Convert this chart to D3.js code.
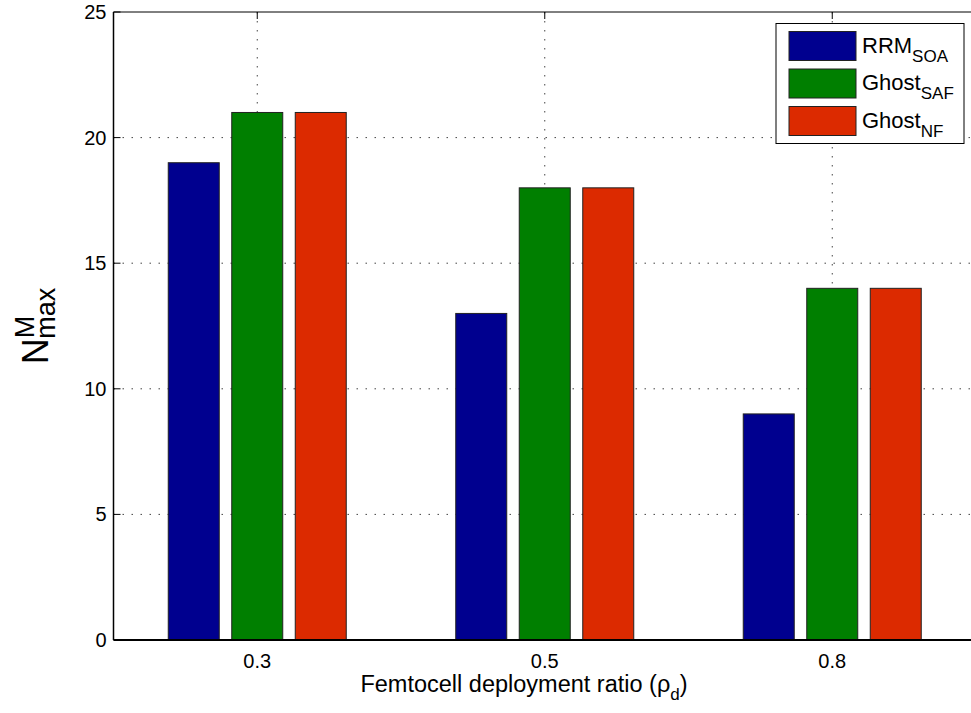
<!DOCTYPE html>
<html>
<head>
<meta charset="utf-8">
<script src="https://cdnjs.cloudflare.com/ajax/libs/d3/7.8.5/d3.min.js"></script>
<style>
  body { margin: 0; background: #fff; }
  svg { font-family: "Liberation Sans", Arial, sans-serif; }
</style>
</head>
<body>
<div id="chart"></div>
<script>
// Chart data
let categories = ["0.3", "0.5", "0.8"];
let series = ["RRM", "GhostSAF", "GhostNF"];
let seriesBase = ["RRM", "Ghost", "Ghost"];
let seriesSub = ["SOA", "SAF", "NF"];
let rrmValues = [19, 13, 9];
let safValues = [21, 18, 14];
let nfValues = [21, 18, 14];
let yTicks = [0, 5, 10, 15, 20, 25];
let colors = ["#00008f", "#007f00", "#dc2a00"];

let width = 971, height = 713;
let plotLeft = 113.5, plotTop = 12, plotBottom = 640;

// category index scale, matlab style xlim [0.5, 3.5]
let x = d3.scaleLinear()
    .domain([0.5, 3.5])
    .range([plotLeft, plotLeft + 862.5]);

// offset of each series within a group
let xInner = d3.scaleBand()
    .domain(series)
    .range([-89, 89])
    .paddingInner(0.197);

let y = d3.scaleLinear()
    .domain([0, 25])
    .range([plotBottom, plotTop]);

let svg = d3.select('#chart')
    .append('svg')
    .attr('width', width)
    .attr('height', height);

// Build a table of bars
let allValues = [rrmValues, safValues, nfValues];
let barData = [];
categories.forEach((c, i) => {
    series.forEach((s, j) => {
        barData.push({cat: i + 1, series: s, idx: j, value: allValues[j][i]});
    });
});

// Grid lines (dotted, drawn under the bars)
let grid = svg.append('g').attr('class', 'grid');
grid.selectAll('.hgrid')
    .data(yTicks.filter(d => d > 0 && d < 25))
    .join('line')
    .attr('x1', plotLeft)
    .attr('x2', width)
    .attr('y1', d => y(d))
    .attr('y2', d => y(d))
    .attr('stroke', '#444')
    .attr('stroke-width', 1)
    .attr('stroke-dasharray', '1.5,7.5');

grid.selectAll('.vgrid')
    .data(categories)
    .join('line')
    .attr('x1', (d, i) => x(i + 1))
    .attr('x2', (d, i) => x(i + 1))
    .attr('y1', plotTop)
    .attr('y2', plotBottom)
    .attr('stroke', '#444')
    .attr('stroke-width', 1)
    .attr('stroke-dasharray', '1.5,7.5');

// Bars
svg.append('g')
    .selectAll('rect')
    .data(barData)
    .join('rect')
    .attr('x', d => x(d.cat) + xInner(d.series))
    .attr('y', d => y(d.value))
    .attr('width', xInner.bandwidth())
    .attr('height', d => y(0) - y(d.value))
    .attr('fill', d => colors[d.idx])
    .attr('stroke', '#222')
    .attr('stroke-width', 1);

// Axes frame
let frame = svg.append('g');
frame.append('line')
    .attr('x1', plotLeft).attr('x2', plotLeft)
    .attr('y1', plotTop).attr('y2', plotBottom)
    .attr('stroke', '#000').attr('stroke-width', 1.5);
frame.append('line')
    .attr('x1', plotLeft).attr('x2', width)
    .attr('y1', plotBottom).attr('y2', plotBottom)
    .attr('stroke', '#000').attr('stroke-width', 2);
frame.append('line')
    .attr('x1', plotLeft).attr('x2', width)
    .attr('y1', plotTop).attr('y2', plotTop)
    .attr('stroke', '#000').attr('stroke-width', 1);

// Y axis ticks and labels
frame.selectAll('.ytick')
    .data(yTicks)
    .join('line')
    .attr('x1', plotLeft)
    .attr('x2', plotLeft + 7)
    .attr('y1', d => y(d))
    .attr('y2', d => y(d))
    .attr('stroke', '#000');

frame.selectAll('.ylab')
    .data(yTicks)
    .join('text')
    .attr('x', plotLeft - 7)
    .attr('y', d => y(d) + 7)
    .attr('text-anchor', 'end')
    .attr('font-size', 20)
    .attr('fill', '#000')
    .text(d => d);

// X ticks (top, inward) and labels
frame.selectAll('.xtick')
    .data(categories)
    .join('line')
    .attr('x1', (d, i) => x(i + 1))
    .attr('x2', (d, i) => x(i + 1))
    .attr('y1', plotTop)
    .attr('y2', plotTop + 7)
    .attr('stroke', '#000');

frame.selectAll('.xlab')
    .data(categories)
    .join('text')
    .attr('x', (d, i) => x(i + 1))
    .attr('y', 668)
    .attr('text-anchor', 'middle')
    .attr('font-size', 20)
    .attr('fill', '#000')
    .text(d => d);

// X axis title
let xTitle = svg.append('text')
    .attr('x', 524)
    .attr('y', 692)
    .attr('text-anchor', 'middle')
    .attr('font-size', 23.5)
    .attr('fill', '#000');
xTitle.append('tspan').text('Femtocell deployment ratio (ρ');
xTitle.append('tspan').attr('font-size', 17).attr('dy', 8).text('d');
xTitle.append('tspan').attr('dy', -8).text(')');

// Y axis title
let yTitle = svg.append('text')
    .attr('transform', 'translate(48,326) rotate(-90)')
    .attr('text-anchor', 'middle')
    .attr('font-size', 36)
    .attr('fill', '#000');
yTitle.append('tspan').text('N');
yTitle.append('tspan').attr('font-size', 27).attr('dy', -14).text('M');
yTitle.append('tspan').attr('font-size', 27).attr('dx', -23).attr('dy', 21).text('max');

// Legend
let legend = svg.append('g');
legend.append('rect')
    .attr('x', 776)
    .attr('y', 23.5)
    .attr('width', 188)
    .attr('height', 120)
    .attr('fill', '#fff')
    .attr('stroke', '#000')
    .attr('stroke-width', 1);

let legendItems = legend.selectAll('.item')
    .data(series)
    .join('g')
    .attr('transform', (d, i) => `translate(789, ${31.5 + i * 37.5})`);

legendItems.append('rect')
    .attr('width', 67)
    .attr('height', 29)
    .attr('fill', (d, i) => colors[i])
    .attr('stroke', '#222')
    .attr('stroke-width', 1);

let legendText = legendItems.append('text')
    .attr('x', 73)
    .attr('y', 21)
    .attr('font-size', 22)
    .attr('fill', '#000');
legendText.append('tspan').text((d, i) => seriesBase[i]);
legendText.append('tspan')
    .attr('font-size', 17)
    .attr('dy', 9)
    .text((d, i) => seriesSub[i]);
</script>
</body>
</html>
